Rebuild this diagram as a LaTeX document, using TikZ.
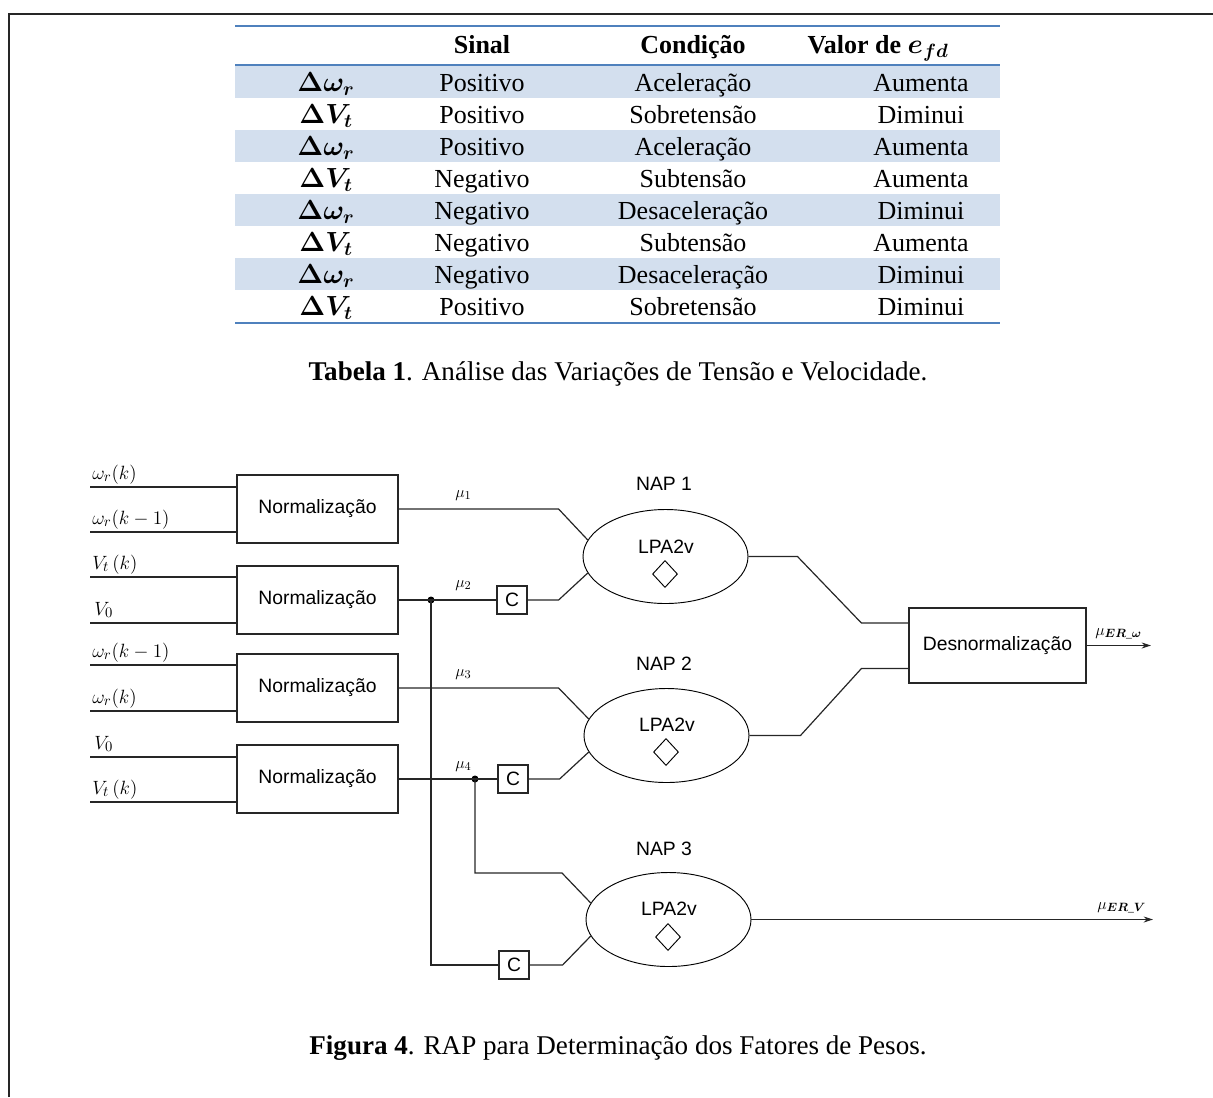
\documentclass[tikz,border=0pt]{standalone}
\usepackage{amsmath,bm}
\usepackage{fontspec}
\setmainfont{Liberation Serif}
\newfontfamily\arialf{Liberation Sans}
\usetikzlibrary{shapes.geometric,arrows.meta,calc}
\definecolor{tblue}{HTML}{4F81BD}
\definecolor{tshade}{HTML}{D3DFEE}
\begin{document}
\begin{tikzpicture}[x=0.75pt,y=-0.75pt,
  frameline/.style={line width=1.9pt,black!85},
  blueline/.style={line width=2.2pt,tblue},
  tab/.style={anchor=base,inner sep=0,font=\fontsize{19.5}{22}\selectfont},
  captext/.style={anchor=base,inner sep=0,font=\fontsize{20.3}{24}\selectfont},
  box/.style={draw,line width=0.9pt,black!85,text=black,minimum width=161*0.75pt,minimum height=68*0.75pt,inner sep=0,font=\arialf\fontsize{14.5}{16}\selectfont},
  cbox/.style={draw,line width=0.9pt,black!85,text=black,minimum width=30*0.75pt,minimum height=28*0.75pt,inner sep=0,font=\arialf\fontsize{14.5}{16}\selectfont},
  ell/.style={ellipse,draw,line width=0.7pt,minimum width=165*0.75pt,minimum height=94*0.75pt,inner sep=0},
  dia/.style={diamond,draw,line width=0.7pt,minimum width=25*0.75pt,minimum height=27*0.75pt,inner sep=0},
  lbl/.style={inner sep=0,font=\arialf\fontsize{14.5}{16}\selectfont},
  ml/.style={anchor=base west,inner sep=0,font=\fontsize{15.5}{17}\selectfont},
  mu/.style={anchor=base west,inner sep=0,font=\fontsize{12.5}{14}\selectfont},
  dot/.style={circle,fill=black,inner sep=0,minimum size=7*0.75pt},
  wire/.style={line width=0.9pt,black!85},
  arr/.style={-{Stealth[length=7pt,width=4.5pt]}}]
\useasboundingbox (0,0) rectangle (1213,1097);
% frame
\draw[frameline] (9,1097) -- (9,14) -- (1213,14);
% table
\foreach \k in {0,2,4,6} \fill[tshade] (235,{66+32*\k}) rectangle (1000,{98+32*\k});
\draw[blueline] (235,26) -- (1000,26);
\draw[blueline] (235,65) -- (1000,65);
\draw[blueline] (235,323) -- (1000,323);
\node[tab] (hs) at (482,53) {\textbf{Sinal}};
\node[tab] (hc) at (693,53) {\textbf{Condição}};
\node[tab] (hv) at (878,53) {\textbf{Valor de} $\bm{e_{fd}}$};
\foreach \i/\a/\b/\c/\d in {
  1/\Delta\omega_r/Positivo/Aceleração/Aumenta,
  2/\Delta V_t/Positivo/Sobretensão/Diminui,
  3/\Delta\omega_r/Positivo/Aceleração/Aumenta,
  4/\Delta V_t/Negativo/Subtensão/Aumenta,
  5/\Delta\omega_r/Negativo/Desaceleração/Diminui,
  6/\Delta V_t/Negativo/Subtensão/Aumenta,
  7/\Delta\omega_r/Negativo/Desaceleração/Diminui,
  8/\Delta V_t/Positivo/Sobretensão/Diminui}{
  \node[tab] (r\i a) at (326,{91+32*(\i-1)}) {$\bm{\a}$};
  \node[tab] (r\i b) at (482,{91+32*(\i-1)}) {\b};
  \node[tab] (r\i c) at (693,{91+32*(\i-1)}) {\c};
  \node[tab] (r\i d) at (921,{91+32*(\i-1)}) {\d};
}
\node[captext] (cap1) at (618,380) {\textbf{Tabela 1}. Análise das Variações de Tensão e Velocidade.};
% diagram boxes
\node[box] (n1) at (317.5,509) {Normalização};
\node[box] (n2) at (317.5,600) {Normalização};
\node[box] (n3) at (317.5,688) {Normalização};
\node[box] (n4) at (317.5,779) {Normalização};
\node[box,minimum width=177*0.75pt,minimum height=75*0.75pt] (dn) at (997.5,645.5) {Desnormalização};
\node[cbox] (c1) at (512,600) {C};
\node[cbox] (c2) at (513,779) {C};
\node[cbox] (c3) at (514,965) {C};
\node[dot] (d1) at (431,600) {};
\node[dot] (d2) at (475,779) {};
\node[ell] (e1) at (665.5,556.5) {};
\node[ell] (e2) at (666.5,735.5) {};
\node[ell] (e3) at (668.5,919.5) {};
\node[lbl] (nap1) at (664,484) {NAP 1};
\node[lbl] (nap2) at (664,664) {NAP 2};
\node[lbl] (nap3) at (664,849) {NAP 3};
\node[lbl] (lp1) at (666,547) {LPA2v};
\node[lbl] (lp2) at (667,725) {LPA2v};
\node[lbl] (lp3) at (669,909) {LPA2v};
\node[dia] (g1) at (665,574) {};
\node[dia] (g2) at (666,752) {};
\node[dia] (g3) at (668,937) {};
% inputs
\coordinate (i1) at (90,487); \coordinate (i2) at (90,532);
\coordinate (i3) at (90,577); \coordinate (i4) at (90,623);
\coordinate (i5) at (90,665); \coordinate (i6) at (90,711);
\coordinate (i7) at (90,757); \coordinate (i8) at (90,802);
\draw[wire] (i1) -- (i1 -| n1.west);
\draw[wire] (i2) -- (i2 -| n1.west);
\draw[wire] (i3) -- (i3 -| n2.west);
\draw[wire] (i4) -- (i4 -| n2.west);
\draw[wire] (i5) -- (i5 -| n3.west);
\draw[wire] (i6) -- (i6 -| n3.west);
\draw[wire] (i7) -- (i7 -| n4.west);
\draw[wire] (i8) -- (i8 -| n4.west);
\node[ml] (l1) at (92,479) {$\omega_r(k)$};
\node[ml] (l2) at (92,524) {$\omega_r(k-1)$};
\node[ml] (l3) at (92,569) {$V_t\,(k)$};
\node[ml] (l4) at (94,615) {$V_0$};
\node[ml] (l5) at (92,657) {$\omega_r(k-1)$};
\node[ml] (l6) at (92,703) {$\omega_r(k)$};
\node[ml] (l7) at (94,749) {$V_0$};
\node[ml] (l8) at (92,794) {$V_t\,(k)$};
% internal wiring
\draw[wire] (n1.east) -- ++(160,0) -- (e1.168);
\draw[wire] (n2.east) -- (c1.west);
\draw[wire] (c1.east) -- ++(31,0) -- (e1.192);
\draw[wire] (n3.east) -- ++(160,0) -- (e2.168);
\draw[wire] (n4.east) -- (c2.west);
\draw[wire] (c2.east) -- ++(31,0) -- (e2.192);
\draw[wire] (d2.center) -- ++(0,94) -- ++(87,0) -- (e3.168);
\draw[wire] (d1.center) |- (c3.west);
\draw[wire] (c3.east) -- ++(33,0) -- (e3.192);
\draw[wire] (e1.east) -- ++(49,0) -- ($(dn.west)+(-47,-22.5)$) -- ($(dn.west)+(0,-22.5)$);
\draw[wire] (e2.east) -- ++(51,0) -- ($(dn.west)+(-47,23)$) -- ($(dn.west)+(0,23)$);
\coordinate (o1) at (1151,645.5);
\coordinate (o2) at (1153,919.5);
\draw[wire,arr] (dn.east) -- (o1);
\draw[wire,arr] (e3.east) -- (o2);
\node[mu] (m1) at (455,497) {$\mu_1$};
\node[mu] (m2) at (455,587) {$\mu_2$};
\node[mu] (m3) at (455,676) {$\mu_3$};
\node[mu] (m4) at (455,768) {$\mu_4$};
\node[mu] (m5) at (1095,635) {$\mu_{\bm{ER\_\omega}}$};
\node[mu] (m6) at (1097,909) {$\mu_{\bm{ER\_V}}$};
\node[captext] (cap2) at (618,1054) {\textbf{Figura 4}. RAP para Determinação dos Fatores de Pesos.};
\end{tikzpicture}
\end{document}
